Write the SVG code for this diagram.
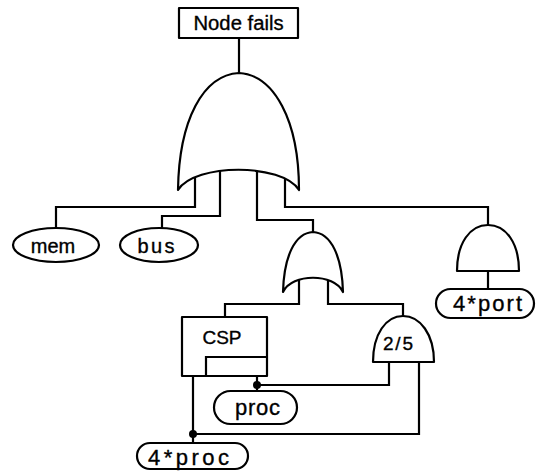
<svg xmlns="http://www.w3.org/2000/svg" width="537" height="474" viewBox="0 0 537 474">
  <style>
    .ln { fill: none; stroke: #000; stroke-width: 2.2; stroke-linejoin: miter; }
    .sh { fill: #fff; stroke: #000; stroke-width: 2.2; stroke-linejoin: round; }
    .dot { fill: #000; }
    text { font-family: "Liberation Sans", Arial, Helvetica, sans-serif; fill: #000; stroke: #000; stroke-width: 0.35; text-anchor: middle; }
  </style>
  <rect width="537" height="474" fill="#fff"/>

  <!-- connectors drawn first so the gate bodies cover their ends -->
  <g id="connectors">
    <path class="ln" d="M239 38 V80"/>
    <path class="ln" d="M195 170 V207 H56 V228"/>
    <path class="ln" d="M220 170 V216 H162 V228"/>
    <path class="ln" d="M257 170 V220 H313 V240"/>
    <path class="ln" d="M285 170 V207 H488 V232"/>
    <path class="ln" d="M488 265 V289"/>
    <path class="ln" d="M299 280 V304 H225 V317"/>
    <path class="ln" d="M328 280 V304 H403 V322"/>
    <path class="ln" d="M389 355 V385 H257 V376"/>
    <path class="ln" d="M257 385 V391"/>
    <path class="ln" d="M419 355 V434 H193 V376"/>
    <path class="ln" d="M193 434 V443"/>
    <circle class="dot" cx="257" cy="385" r="4"/>
    <circle class="dot" cx="193" cy="434" r="4"/>
  </g>

  <g id="top-event">
    <rect class="sh" x="179" y="8" width="119" height="30"/>
    <text x="238.5" y="30" font-size="20" textLength="90" lengthAdjust="spacingAndGlyphs">Node fails</text>
  </g>

  <g id="or-node">
    <path class="sh" d="M239 73 C203 75 179 120 178 190 C195 163 282 163 299 190 C299 120 274 75 239 73 Z"/>
  </g>

  <g id="mem">
    <ellipse class="sh" cx="56" cy="245" rx="43" ry="17"/>
    <text x="53" y="253" font-size="20">mem</text>
  </g>

  <g id="bus">
    <ellipse class="sh" cx="159" cy="245" rx="39" ry="17"/>
    <text x="156" y="253" font-size="20" textLength="37" lengthAdjust="spacing">bus</text>
  </g>

  <g id="or-proc">
    <path class="sh" d="M313 232 C295 233 284 256 283 292 C292 273 334 273 343 292 C342 256 331 233 313 232 Z"/>
  </g>

  <g id="and-port">
    <path class="sh" d="M457 271 C457 243 470 225 488 225 C506 225 519 243 519 271 Z"/>
  </g>

  <g id="port">
    <rect class="sh" x="436" y="289" width="98" height="29" rx="14.5"/>
    <text x="487.5" y="311" font-size="22" textLength="69" lengthAdjust="spacing">4*port</text>
  </g>

  <g id="csp">
    <rect class="sh" x="182" y="317" width="85" height="59"/>
    <path class="ln" d="M206 376 V357 H267"/>
    <text x="222" y="344" font-size="19">CSP</text>
  </g>

  <g id="vote-2of5">
    <path class="sh" d="M373 362 C373 334 386 316 403 316 C420 316 434 334 434 362 Z"/>
    <text x="398" y="350" font-size="19" textLength="30" lengthAdjust="spacing">2/5</text>
  </g>

  <g id="proc">
    <rect class="sh" x="214" y="391" width="83" height="33" rx="16.5"/>
    <text x="257.5" y="415" font-size="22" textLength="45" lengthAdjust="spacing">proc</text>
  </g>

  <g id="proc4">
    <rect class="sh" x="137" y="443" width="111" height="26" rx="13"/>
    <text x="188.5" y="465" font-size="22" textLength="81" lengthAdjust="spacing">4*proc</text>
  </g>
</svg>
